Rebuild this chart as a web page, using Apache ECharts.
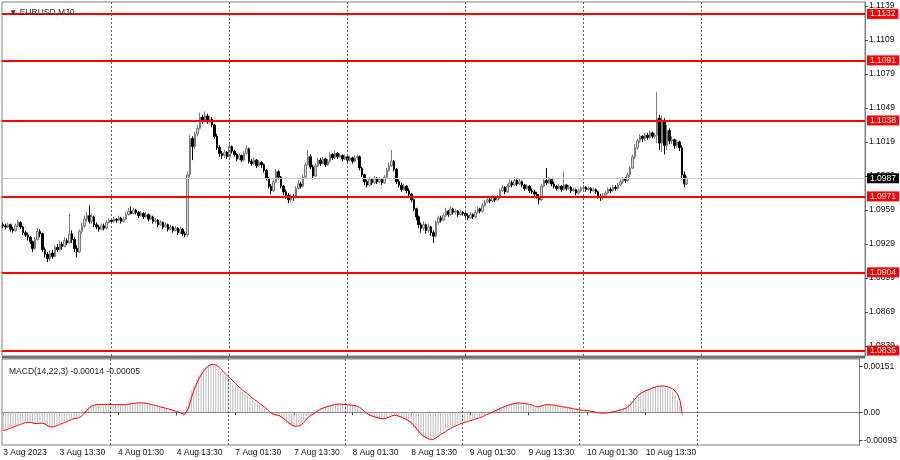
<!DOCTYPE html>
<html><head><meta charset="utf-8">
<script src="https://cdn.jsdelivr.net/npm/echarts@6/dist/echarts.min.js"></script>
<style>html,body{margin:0;padding:0;background:#fff}#c{width:900px;height:460px}</style>
</head><body><div id="c"></div>
<script>
const symbolTitle = '\u25BC EURUSD,M30';
const macdTitle = 'MACD(14,22,3) -0.00014 -0.00005';
const slotCount = 351;
const tickLabels = ['3 Aug 2023','3 Aug 13:30','4 Aug 01:30','4 Aug 13:30','7 Aug 01:30','7 Aug 13:30','8 Aug 01:30','8 Aug 13:30','9 Aug 01:30','9 Aug 13:30','10 Aug 01:30','10 Aug 13:30'];
const tickBars = [0,23,47,71,95,119,143,167,191,215,239,263];
const daySeparators = [44,92,140,188,236,284];
const levels = [1.1132,1.1091,1.1038,1.0971,1.0904,1.0835];
const lastPrice = 1.0987;
const priceTicks = [1.1139,1.1109,1.1079,1.1049,1.1019,1.0989,1.0959,1.0929,1.0899,1.0869,1.0839];
const macdTicks = [0.00151,0,-0.00093];

const open = [1.0946,1.0945,1.0944,1.0946,1.0942,1.0941,1.0945,1.0948,1.0944,1.0939,
1.0937,1.0935,1.0931,1.0925,1.0933,1.0940,1.0938,1.0924,1.0920,1.0916,
1.0921,1.0918,1.0926,1.0924,1.0929,1.0927,1.0932,1.0930,1.0938,1.0933,
1.0925,1.0922,1.0940,1.0945,1.0951,1.0954,1.0949,1.0953,1.0946,1.0944,
1.0942,1.0945,1.0943,1.0948,1.0950,1.0949,1.0951,1.0950,1.0952,1.0949,
1.0951,1.0955,1.0958,1.0956,1.0959,1.0957,1.0954,1.0956,1.0953,1.0955,
1.0951,1.0953,1.0949,1.0950,1.0946,1.0948,1.0944,1.0946,1.0942,1.0944,
1.0941,1.0943,1.0939,1.0942,1.0938,1.0937,1.0990,1.1022,1.1015,1.1026,
1.1031,1.1041,1.1038,1.1042,1.1037,1.1039,1.1034,1.1024,1.1014,1.1009,
1.1007,1.1010,1.1006,1.1015,1.1011,1.1008,1.1004,1.1007,1.1003,1.1009,
1.1013,1.1002,1.1000,1.1003,1.0998,1.1001,1.0999,1.0994,1.0987,1.0980,
1.0976,1.0984,1.0993,1.0988,1.0980,1.0975,1.0972,1.0968,1.0971,1.0970,
1.0978,1.0982,1.0980,1.0988,1.0999,1.1006,1.0997,1.0989,1.0998,1.1003,
1.1000,1.1004,1.0999,1.1002,1.1008,1.1005,1.1009,1.1006,1.1007,1.1004,
1.1006,1.1003,1.1005,1.1002,1.1005,1.1006,1.0996,1.0990,1.0984,1.0981,
1.0986,1.0983,1.0987,1.0984,1.0986,1.0983,1.0988,1.0994,1.0998,1.1002,
1.0995,1.0984,1.0981,1.0977,1.0980,1.0976,1.0973,1.0968,1.0960,1.0953,
1.0946,1.0943,1.0946,1.0941,1.0944,1.0939,1.0936,1.0948,1.0952,1.0950,
1.0954,1.0958,1.0955,1.0960,1.0957,1.0958,1.0955,1.0957,1.0956,1.0954,
1.0952,1.0955,1.0953,1.0957,1.0960,1.0958,1.0963,1.0966,1.0968,1.0967,
1.0970,1.0968,1.0970,1.0976,1.0979,1.0975,1.0980,1.0983,1.0981,1.0985,
1.0982,1.0984,1.0981,1.0978,1.0980,1.0976,1.0975,1.0973,1.0971,1.0968,
1.0980,1.0985,1.0983,1.0986,1.0982,1.0980,1.0978,1.0980,1.0977,1.0981,
1.0978,1.0979,1.0976,1.0977,1.0974,1.0976,1.0978,1.0979,1.0977,1.0978,
1.0976,1.0977,1.0975,1.0971,1.0970,1.0972,1.0974,1.0977,1.0976,1.0979,
1.0978,1.0981,1.0984,1.0986,1.0985,1.0990,1.0996,1.1006,1.1014,1.1020,
1.1024,1.1022,1.1025,1.1023,1.1027,1.1024,1.1025,1.1040,1.1018,1.1038,
1.1016,1.1029,1.1020,1.1021,1.1016,1.1019,1.1014,1.0990,1.0982];

const close = [1.0945,1.0944,1.0946,1.0942,1.0941,1.0945,1.0948,1.0944,1.0939,1.0937,
1.0935,1.0931,1.0925,1.0933,1.0940,1.0938,1.0924,1.0920,1.0916,1.0921,
1.0918,1.0926,1.0924,1.0929,1.0927,1.0932,1.0930,1.0938,1.0933,1.0925,
1.0922,1.0940,1.0945,1.0951,1.0954,1.0949,1.0953,1.0946,1.0944,1.0942,
1.0945,1.0943,1.0948,1.0950,1.0949,1.0951,1.0950,1.0952,1.0949,1.0951,
1.0955,1.0958,1.0956,1.0959,1.0957,1.0954,1.0956,1.0953,1.0955,1.0951,
1.0953,1.0949,1.0950,1.0946,1.0948,1.0944,1.0946,1.0942,1.0944,1.0941,
1.0943,1.0939,1.0942,1.0938,1.0937,1.0990,1.1022,1.1015,1.1026,1.1031,
1.1041,1.1038,1.1042,1.1037,1.1039,1.1034,1.1024,1.1014,1.1009,1.1007,
1.1010,1.1006,1.1015,1.1011,1.1008,1.1004,1.1007,1.1003,1.1009,1.1013,
1.1002,1.1000,1.1003,1.0998,1.1001,1.0999,1.0994,1.0987,1.0980,1.0976,
1.0984,1.0993,1.0988,1.0980,1.0975,1.0972,1.0968,1.0971,1.0970,1.0978,
1.0982,1.0980,1.0988,1.0999,1.1006,1.0997,1.0989,1.0998,1.1003,1.1000,
1.1004,1.0999,1.1002,1.1008,1.1005,1.1009,1.1006,1.1007,1.1004,1.1006,
1.1003,1.1005,1.1002,1.1005,1.1006,1.0996,1.0990,1.0984,1.0981,1.0986,
1.0983,1.0987,1.0984,1.0986,1.0983,1.0988,1.0994,1.0998,1.1002,1.0995,
1.0984,1.0981,1.0977,1.0980,1.0976,1.0973,1.0968,1.0960,1.0953,1.0946,
1.0943,1.0946,1.0941,1.0944,1.0939,1.0936,1.0948,1.0952,1.0950,1.0954,
1.0958,1.0955,1.0960,1.0957,1.0958,1.0955,1.0957,1.0956,1.0954,1.0952,
1.0955,1.0953,1.0957,1.0960,1.0958,1.0963,1.0966,1.0968,1.0967,1.0970,
1.0968,1.0970,1.0976,1.0979,1.0975,1.0980,1.0983,1.0981,1.0985,1.0982,
1.0984,1.0981,1.0978,1.0980,1.0976,1.0975,1.0973,1.0971,1.0968,1.0980,
1.0985,1.0983,1.0986,1.0982,1.0980,1.0978,1.0980,1.0977,1.0981,1.0978,
1.0979,1.0976,1.0977,1.0974,1.0976,1.0978,1.0979,1.0977,1.0978,1.0976,
1.0977,1.0975,1.0971,1.0970,1.0972,1.0974,1.0977,1.0976,1.0979,1.0978,
1.0981,1.0984,1.0986,1.0985,1.0990,1.0996,1.1006,1.1014,1.1020,1.1024,
1.1022,1.1025,1.1023,1.1027,1.1024,1.1025,1.1040,1.1018,1.1038,1.1016,
1.1029,1.1020,1.1021,1.1016,1.1019,1.1014,1.0990,1.0982,1.0987];

const high = [1.0948,1.0947,1.0948,1.0947,1.0944,1.0947,1.0950,1.0949,1.0945,1.0941,
1.0939,1.0936,1.0932,1.0935,1.0943,1.0942,1.0939,1.0926,1.0922,1.0923,
1.0924,1.0928,1.0929,1.0932,1.0931,1.0935,1.0934,1.0956,1.0941,1.0935,
1.0928,1.0942,1.0948,1.0954,1.0957,1.0963,1.0956,1.0954,1.0948,1.0946,
1.0947,1.0947,1.0950,1.0952,1.0951,1.0953,1.0952,1.0954,1.0953,1.0953,
1.0957,1.0961,1.0962,1.0961,1.0960,1.0958,1.0958,1.0957,1.0957,1.0956,
1.0955,1.0954,1.0952,1.0951,1.0950,1.0949,1.0948,1.0947,1.0946,1.0945,
1.0945,1.0944,1.0944,1.0943,1.0940,1.0993,1.1025,1.1024,1.1028,1.1034,
1.1045,1.1043,1.1046,1.1044,1.1042,1.1041,1.1035,1.1026,1.1016,1.1011,
1.1012,1.1011,1.1018,1.1016,1.1012,1.1009,1.1009,1.1008,1.1011,1.1016,
1.1014,1.1004,1.1005,1.1004,1.1003,1.1002,1.1000,1.0995,1.0988,1.0982,
1.0986,1.0995,1.0994,1.0989,1.0981,1.0977,1.0974,1.0973,1.0973,1.0980,
1.0985,1.0984,1.0990,1.1001,1.1012,1.1008,1.0999,1.1000,1.1005,1.1005,
1.1006,1.1005,1.1004,1.1010,1.1009,1.1011,1.1010,1.1009,1.1008,1.1008,
1.1007,1.1007,1.1006,1.1007,1.1008,1.1007,1.0997,1.0991,1.0986,1.0988,
1.0987,1.0989,1.0988,1.0988,1.0987,1.0990,1.0996,1.1001,1.1012,1.1003,
1.0996,1.0986,1.0983,1.0982,1.0981,1.0978,1.0974,1.0969,1.0961,1.0954,
1.0948,1.0949,1.0947,1.0947,1.0945,1.0941,1.0950,1.0954,1.0954,1.0956,
1.0961,1.0959,1.0962,1.0961,1.0960,1.0959,1.0959,1.0958,1.0957,1.0956,
1.0957,1.0956,1.0959,1.0962,1.0961,1.0965,1.0968,1.0970,1.0970,1.0972,
1.0971,1.0972,1.0978,1.0981,1.0980,1.0982,1.0986,1.0985,1.0988,1.0986,
1.0987,1.0985,1.0982,1.0982,1.0981,1.0978,1.0977,1.0975,1.0973,1.0982,
1.0987,1.0996,1.0988,1.0987,1.0984,1.0981,1.0982,1.0981,1.0993,1.0982,
1.0981,1.0980,1.0979,1.0978,1.0978,1.0980,1.0981,1.0980,1.0980,1.0979,
1.0979,1.0978,1.0976,1.0973,1.0974,1.0976,1.0979,1.0979,1.0981,1.0981,
1.0983,1.0986,1.0988,1.0988,1.0992,1.0998,1.1008,1.1017,1.1022,1.1026,
1.1025,1.1027,1.1027,1.1029,1.1028,1.1027,1.1063,1.1043,1.1042,1.1040,
1.1034,1.1031,1.1024,1.1022,1.1021,1.1020,1.1016,1.0993,1.0989];

const low = [1.0943,1.0942,1.0943,1.0940,1.0939,1.0940,1.0944,1.0942,1.0937,1.0935,
1.0932,1.0929,1.0922,1.0924,1.0932,1.0935,1.0922,1.0917,1.0913,1.0914,
1.0916,1.0917,1.0922,1.0923,1.0924,1.0926,1.0928,1.0929,1.0930,1.0922,
1.0917,1.0921,1.0938,1.0943,1.0949,1.0947,1.0947,1.0944,1.0942,1.0940,
1.0941,1.0941,1.0942,1.0947,1.0947,1.0948,1.0948,1.0949,1.0947,1.0948,
1.0950,1.0954,1.0955,1.0955,1.0955,1.0952,1.0953,1.0951,1.0952,1.0949,
1.0950,1.0947,1.0947,1.0944,1.0945,1.0942,1.0943,1.0940,1.0941,1.0939,
1.0940,1.0937,1.0938,1.0936,1.0935,1.0935,1.0988,1.1003,1.1013,1.1024,
1.1030,1.1035,1.1036,1.1035,1.1035,1.1032,1.1022,1.1012,1.1006,1.1004,
1.1005,1.1004,1.1005,1.1009,1.1006,1.1002,1.1003,1.1001,1.1002,1.1008,
1.1000,1.0998,1.0999,1.0996,1.0997,1.0996,1.0992,1.0985,1.0978,1.0973,
1.0975,1.0983,1.0986,1.0978,1.0972,1.0969,1.0965,1.0966,1.0967,1.0969,
1.0977,1.0978,1.0979,1.0987,1.0998,1.0995,1.0986,1.0988,1.0997,1.0998,
1.0999,1.0997,1.0998,1.1001,1.1003,1.1004,1.1004,1.1005,1.1002,1.1003,
1.1001,1.1002,1.1000,1.1001,1.1003,1.0994,1.0988,1.0981,1.0979,1.0980,
1.0981,1.0982,1.0982,1.0983,1.0981,1.0982,1.0987,1.0993,1.0997,1.0993,
1.0982,1.0979,1.0975,1.0976,1.0974,1.0971,1.0966,1.0958,1.0950,1.0943,
1.0939,1.0941,1.0938,1.0939,1.0936,1.0930,1.0935,1.0946,1.0948,1.0949,
1.0953,1.0953,1.0954,1.0955,1.0955,1.0953,1.0954,1.0954,1.0952,1.0950,
1.0951,1.0951,1.0952,1.0956,1.0956,1.0957,1.0962,1.0965,1.0965,1.0966,
1.0966,1.0967,1.0969,1.0975,1.0973,1.0974,1.0979,1.0979,1.0980,1.0980,
1.0981,1.0979,1.0976,1.0977,1.0974,1.0973,1.0971,1.0969,1.0964,1.0967,
1.0979,1.0981,1.0982,1.0980,1.0978,1.0976,1.0977,1.0975,1.0976,1.0976,
1.0977,1.0974,1.0975,1.0972,1.0973,1.0975,1.0976,1.0975,1.0976,1.0974,
1.0975,1.0973,1.0969,1.0967,1.0968,1.0971,1.0973,1.0974,1.0975,1.0976,
1.0977,1.0980,1.0982,1.0983,1.0984,1.0988,1.0995,1.1004,1.1012,1.1018,
1.1019,1.1020,1.1021,1.1022,1.1022,1.1022,1.1018,1.1012,1.1010,1.1008,
1.1012,1.1017,1.1017,1.1013,1.1014,1.1011,1.0986,1.0979,1.0981];

const macdMain = [-0.00058,-0.00055,-0.00052,-0.00049,-0.00046,-0.00044,-0.00040,-0.00036,-0.00034,-0.00032,
-0.00033,-0.00035,-0.00038,-0.00038,-0.00035,-0.00034,-0.00038,-0.00043,-0.00048,-0.00049,
-0.00048,-0.00044,-0.00041,-0.00037,-0.00034,-0.00031,-0.00028,-0.00023,-0.00021,-0.00020,
-0.00020,-0.00014,-0.00005,0.00004,0.00014,0.00020,0.00024,0.00025,0.00026,0.00026,
0.00027,0.00026,0.00026,0.00026,0.00025,0.00025,0.00025,0.00026,0.00025,0.00025,
0.00026,0.00028,0.00029,0.00031,0.00031,0.00031,0.00031,0.00030,0.00029,0.00027,
0.00026,0.00023,0.00021,0.00018,0.00017,0.00014,0.00013,0.00010,0.00008,0.00005,
0.00003,0,-0.00003,-0.00006,-0.00011,0.00018,0.00048,0.00072,0.00092,0.00108,
0.00124,0.00136,0.00146,0.00153,0.00158,0.00159,0.00157,0.00151,0.00144,0.00135,
0.00126,0.00118,0.00112,0.00104,0.00096,0.00088,0.00080,0.00073,0.00067,0.00062,
0.00054,0.00047,0.00041,0.00034,0.00029,0.00023,0.00017,0.00010,0.00002,-0.00006,
-0.00009,-0.00008,-0.00010,-0.00015,-0.00022,-0.00029,-0.00037,-0.00041,-0.00046,-0.00047,
-0.00046,-0.00042,-0.00035,-0.00024,-0.00013,-0.00009,-0.00007,-0.00001,0.00007,0.00011,
0.00015,0.00017,0.00018,0.00022,0.00024,0.00026,0.00027,0.00027,0.00026,0.00026,
0.00025,0.00024,0.00023,0.00022,0.00022,0.00016,0.00009,0.00002,-0.00005,-0.00009,
-0.00013,-0.00015,-0.00017,-0.00019,-0.00021,-0.00022,-0.00020,-0.00016,-0.00011,-0.00008,
-0.00010,-0.00013,-0.00017,-0.00019,-0.00023,-0.00027,-0.00033,-0.00042,-0.00052,-0.00062,
-0.00072,-0.00078,-0.00084,-0.00087,-0.00090,-0.00091,-0.00085,-0.00079,-0.00074,-0.00069,
-0.00063,-0.00059,-0.00053,-0.00049,-0.00045,-0.00042,-0.00038,-0.00035,-0.00033,-0.00031,
-0.00028,-0.00026,-0.00023,-0.00020,-0.00019,-0.00015,-0.00011,-0.00007,-0.00004,-0.00001,
0.00003,0.00006,0.00011,0.00016,0.00017,0.00021,0.00025,0.00026,0.00029,0.00030,
0.00031,0.00031,0.00029,0.00029,0.00027,0.00025,0.00022,0.00019,0.00015,0.00020,
0.00024,0.00025,0.00026,0.00025,0.00024,0.00022,0.00021,0.00019,0.00019,0.00017,
0.00016,0.00014,0.00013,0.00010,0.00009,0.00008,0.00008,0.00006,0.00006,0.00004,
0.00004,0.00002,-0.00001,-0.00003,-0.00003,-0.00003,-0.00002,-0.00001,0.00001,0.00002,
0.00004,0.00006,0.00009,0.00010,0.00014,0.00019,0.00028,0.00038,0.00048,0.00057,
0.00062,0.00068,0.00071,0.00075,0.00077,0.00079,0.00086,0.00084,0.00089,0.00086,
0.00087,0.00084,0.00082,0.00075,0.00068,0.00058,0.00040,0.00022,-0.00014];

const macdSignal = [-0.00060,-0.00058,-0.00055,-0.00052,-0.00049,-0.00046,-0.00043,-0.00040,-0.00037,-0.00034,
-0.00033,-0.00033,-0.00035,-0.00037,-0.00037,-0.00036,-0.00036,-0.00038,-0.00043,-0.00047,
-0.00048,-0.00047,-0.00044,-0.00041,-0.00037,-0.00034,-0.00031,-0.00027,-0.00024,-0.00021,
-0.00020,-0.00018,-0.00013,-0.00005,0.00004,0.00013,0.00019,0.00023,0.00025,0.00026,
0.00026,0.00026,0.00026,0.00026,0.00026,0.00025,0.00025,0.00025,0.00025,0.00025,
0.00025,0.00026,0.00028,0.00029,0.00030,0.00031,0.00031,0.00031,0.00030,0.00029,
0.00027,0.00025,0.00023,0.00021,0.00019,0.00016,0.00015,0.00012,0.00010,0.00008,
0.00005,0.00003,0,-0.00003,-0.00007,0,0.00018,0.00046,0.00071,0.00091,
0.00108,0.00123,0.00135,0.00145,0.00152,0.00157,0.00158,0.00156,0.00151,0.00143,
0.00135,0.00126,0.00119,0.00111,0.00104,0.00096,0.00088,0.00080,0.00073,0.00067,
0.00061,0.00054,0.00047,0.00041,0.00035,0.00029,0.00023,0.00017,0.00010,0.00002,
-0.00004,-0.00008,-0.00009,-0.00011,-0.00016,-0.00022,-0.00029,-0.00036,-0.00041,-0.00045,
-0.00046,-0.00045,-0.00041,-0.00034,-0.00024,-0.00015,-0.00010,-0.00006,0,0.00006,
0.00011,0.00014,0.00017,0.00019,0.00021,0.00024,0.00026,0.00027,0.00027,0.00026,
0.00026,0.00025,0.00024,0.00023,0.00022,0.00020,0.00016,0.00009,0.00002,-0.00004,
-0.00009,-0.00012,-0.00015,-0.00017,-0.00019,-0.00021,-0.00021,-0.00019,-0.00016,-0.00012,
-0.00010,-0.00010,-0.00013,-0.00016,-0.00020,-0.00023,-0.00028,-0.00034,-0.00042,-0.00052,
-0.00062,-0.00071,-0.00078,-0.00083,-0.00087,-0.00089,-0.00089,-0.00085,-0.00079,-0.00074,
-0.00069,-0.00064,-0.00058,-0.00054,-0.00049,-0.00045,-0.00042,-0.00038,-0.00035,-0.00033,
-0.00031,-0.00028,-0.00026,-0.00023,-0.00021,-0.00018,-0.00015,-0.00011,-0.00007,-0.00004,
-0.00001,0.00003,0.00007,0.00011,0.00015,0.00018,0.00021,0.00024,0.00027,0.00028,
0.00030,0.00031,0.00030,0.00030,0.00028,0.00027,0.00025,0.00022,0.00019,0.00018,
0.00020,0.00023,0.00025,0.00025,0.00025,0.00024,0.00022,0.00021,0.00020,0.00018,
0.00017,0.00016,0.00014,0.00012,0.00011,0.00009,0.00008,0.00007,0.00007,0.00005,
0.00005,0.00003,0.00002,-0.00001,-0.00002,-0.00003,-0.00003,-0.00002,-0.00001,0.00001,
0.00002,0.00004,0.00006,0.00008,0.00011,0.00014,0.00020,0.00028,0.00038,0.00048,
0.00056,0.00062,0.00067,0.00071,0.00074,0.00077,0.00081,0.00083,0.00086,0.00086,
0.00087,0.00086,0.00084,0.00081,0.00077,0.00070,0.00060,0.00040,-0.00005];

const FONT = 'Liberation Sans, Arial, sans-serif';
const categories = Array.from({length: slotCount}, (_, i) => String(i));
const candles = open.map((o, i) => [o, close[i], low[i], high[i]]);
const tickSet = new Set(tickBars);
const showTick = (idx) => tickSet.has(idx);

const levelLines = levels.map(v => ({
  yAxis: v,
  lineStyle: {color: '#ff0000', width: 1.8, type: 'solid'},
  label: {show: true, position: 'end', distance: 2, formatter: v.toFixed(4), color: '#ffffff',
    backgroundColor: '#ff0000', padding: [1, 3, 0, 3], fontSize: 8.5, fontFamily: FONT, lineHeight: 9}
}));
const priceLine = {
  yAxis: lastPrice,
  lineStyle: {color: '#c8c8c8', width: 1, type: 'solid'},
  label: {show: true, position: 'end', distance: 2, formatter: lastPrice.toFixed(4), color: '#ffffff',
    backgroundColor: '#000000', padding: [1, 3, 0, 3], fontSize: 8.5, fontFamily: FONT, lineHeight: 9}
};
const sepLines = daySeparators.map(b => ({
  xAxis: String(b),
  lineStyle: {color: '#606060', width: 1, type: [2, 2]},
  label: {show: false}
}));

const chart = echarts.init(document.getElementById('c'), null, {renderer: 'canvas'});
chart.setOption({
  animation: false,
  backgroundColor: '#ffffff',
  textStyle: {fontFamily: FONT},
  title: [
    {text: symbolTitle, left: 4, top: 3, textStyle: {fontSize: 8.5, fontWeight: 'normal', color: '#333', fontFamily: FONT}},
    {text: macdTitle, left: 4, top: 362, textStyle: {fontSize: 8.5, fontWeight: 'normal', color: '#222', fontFamily: FONT}}
  ],
  grid: [
    {left: 2, top: 2, width: 863, height: 354, show: true, borderColor: '#808080', borderWidth: 1},
    {left: 2, top: 359, width: 863, height: 86, show: true, borderColor: '#808080', borderWidth: 1}
  ],
  graphic: [
    {type: 'rect', shape: {x: 2, y: 356, width: 863, height: 2.5}, style: {fill: '#6e6e6e'}, z: 100}
  ],
  xAxis: [
    {type: 'category', gridIndex: 0, data: categories, boundaryGap: true,
     axisLine: {show: false}, axisTick: {show: false}, axisLabel: {show: false}, splitLine: {show: false}},
    {type: 'category', gridIndex: 1, data: categories, boundaryGap: true,
     axisLine: {show: true, lineStyle: {color: '#808080'}},
     axisTick: {show: true, alignWithLabel: true, interval: showTick, length: 3, lineStyle: {color: '#444'}},
     axisLabel: {show: true, interval: showTick, align: 'left', margin: 3, fontSize: 8.5, color: '#111', fontFamily: FONT,
       formatter: (v, i) => { const k = tickBars.indexOf(i); return k >= 0 ? tickLabels[k] : ''; }},
     splitLine: {show: false}}
  ],
  yAxis: [
    {type: 'value', gridIndex: 0, position: 'right', min: 1.08302, max: 1.11425, scale: true,
     axisLine: {show: true, lineStyle: {color: '#808080'}},
     axisTick: {show: true, length: 3, customValues: priceTicks, lineStyle: {color: '#444'}},
     axisLabel: {show: true, customValues: priceTicks, formatter: v => v.toFixed(4), margin: 4, fontSize: 8.5, color: '#111', fontFamily: FONT},
     splitLine: {show: false}},
    {type: 'value', gridIndex: 1, position: 'right', min: -0.001077, max: 0.001755,
     axisLine: {show: true, lineStyle: {color: '#808080'}},
     axisTick: {show: true, length: 3, customValues: macdTicks, lineStyle: {color: '#444'}},
     axisLabel: {show: true, customValues: macdTicks, formatter: v => (Math.abs(v) < 1e-9 ? '0.00' : v.toFixed(5)), margin: 4, fontSize: 8.5, color: '#111', fontFamily: FONT},
     splitLine: {show: false}}
  ],
  series: [
    {type: 'candlestick', xAxisIndex: 0, yAxisIndex: 0, data: candles, barWidth: 2,
     itemStyle: {color: '#d8d8d8', color0: '#000000', borderColor: '#7a7a7a', borderColor0: '#000000', borderWidth: 1},
     markLine: {silent: true, symbol: ['none', 'none'], animation: false, precision: 4,
       data: [...sepLines, priceLine, ...levelLines]}},
    {type: 'bar', xAxisIndex: 1, yAxisIndex: 1, data: macdMain, barWidth: 1,
     itemStyle: {color: '#bdbdbd'},
     markLine: {silent: true, symbol: ['none', 'none'], animation: false, data: sepLines}},
    {type: 'line', xAxisIndex: 1, yAxisIndex: 1, data: macdSignal, showSymbol: false, symbol: 'none',
     lineStyle: {color: '#ff0000', width: 1}, z: 5}
  ]
});
</script>
</body></html>
